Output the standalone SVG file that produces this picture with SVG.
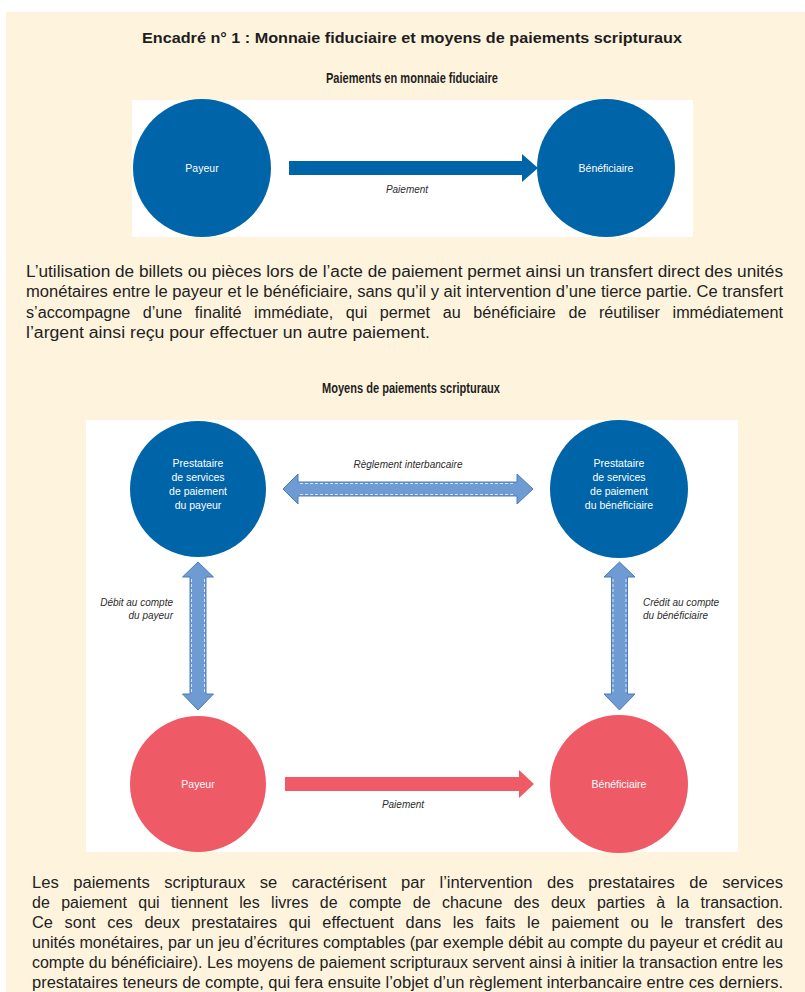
<svg xmlns="http://www.w3.org/2000/svg" width="805" height="992" viewBox="0 0 805 992">
  <defs>
    <style>
      .bg{fill:#fef4de}
      .panel{fill:#ffffff}
      .dark{fill:#0064a8}
      .red{fill:#ef5a67}
      .light{fill:#6f9bd3;stroke:#4a7bbd;stroke-width:1}
      .dash{fill:none;stroke:#ffffff;stroke-width:1;stroke-dasharray:3 2;opacity:0.75}
      .h{font-family:"Liberation Sans",Arial,sans-serif;font-weight:bold;fill:#1e1e1e;text-anchor:middle}
      .p{font-family:"Liberation Sans",Arial,sans-serif;font-size:16px;fill:#222222}
      .n{font-family:"Liberation Sans",Arial,sans-serif;font-size:10.5px;fill:#ffffff;text-anchor:middle}
      .lbl{font-family:"Liberation Sans",Arial,sans-serif;font-size:10px;font-style:italic;fill:#2d2d2d}
    </style>
  </defs>

  <!-- page and box background -->
  <rect x="0" y="0" width="805" height="992" fill="#ffffff"/>
  <rect class="bg" x="6" y="12" width="799" height="980"/>

  <!-- headings -->
  <text class="h" x="412" y="43" font-size="15" textLength="540" lengthAdjust="spacingAndGlyphs">Encadré n° 1 : Monnaie fiduciaire et moyens de paiements scripturaux</text>
  <text class="h" x="412" y="83" font-size="14.5" textLength="172" lengthAdjust="spacingAndGlyphs">Paiements en monnaie fiduciaire</text>
  <text class="h" x="411" y="393" font-size="14.5" textLength="178" lengthAdjust="spacingAndGlyphs">Moyens de paiements scripturaux</text>

  <!-- cash payment panel -->
  <rect class="panel" x="132" y="100" width="561" height="137"/>
  <g id="connectors-cash">
    <path class="dark" d="M289,161 H522 V154 L538,168 L522,182 V175 H289 Z"/>
    <text class="lbl" x="407" y="193" text-anchor="middle">Paiement</text>
  </g>
  <g id="cash-payeur">
    <circle class="dark" cx="202" cy="168" r="69"/>
    <text class="n" x="202" y="172">Payeur</text>
  </g>
  <g id="cash-beneficiaire">
    <circle class="dark" cx="606" cy="168" r="69"/>
    <text class="n" x="606" y="172">Bénéficiaire</text>
  </g>

  <!-- paragraph 1 -->
  <g id="para-1">
    <text class="p" x="26" y="277" textLength="757" lengthAdjust="spacingAndGlyphs">L’utilisation de billets ou pièces lors de l’acte de paiement permet ainsi un transfert direct des unités</text>
    <text class="p" x="26" y="297" textLength="757" lengthAdjust="spacingAndGlyphs">monétaires entre le payeur et le bénéficiaire, sans qu’il y ait intervention d’une tierce partie. Ce transfert</text>
    <text class="p" x="26" y="318" textLength="757" lengthAdjust="spacingAndGlyphs" word-spacing="8">s’accompagne d’une finalité immédiate, qui permet au bénéficiaire de réutiliser immédiatement</text>
    <text class="p" x="26" y="338" textLength="404" lengthAdjust="spacingAndGlyphs">l’argent ainsi reçu pour effectuer un autre paiement.</text>
  </g>

  <!-- book-entry payment panel -->
  <rect class="panel" x="86" y="420" width="652" height="432"/>

  <g id="connectors-scriptural">
    <!-- interbank settlement -->
    <path class="light" d="M283,489 L298,474 V482 H517 V474 L533,489 L517,504 V496 H298 V504 Z"/>
    <path class="dash" d="M300,483.5 H515 M300,494.5 H515"/>
    <text class="lbl" x="408" y="468" text-anchor="middle">Règlement interbancaire</text>

    <!-- payer account debit -->
    <path class="light" d="M198,562 L213.5,577 H206 V694 H213.5 L198,710 L182.5,694 H190 V577 H182.5 Z"/>
    <path class="dash" d="M191.5,579 V692 M204.5,579 V692"/>
    <text class="lbl" x="173" y="606" text-anchor="end">Débit au compte</text>
    <text class="lbl" x="173" y="619" text-anchor="end">du payeur</text>

    <!-- payee account credit -->
    <path class="light" d="M619.5,562 L635,577 H627.5 V694 H635 L619.5,710 L604,694 H611.5 V577 H604 Z"/>
    <path class="dash" d="M613,579 V692 M626,579 V692"/>
    <text class="lbl" x="643" y="606">Crédit au compte</text>
    <text class="lbl" x="643" y="619">du bénéficiaire</text>

    <!-- payment -->
    <path class="red" d="M285,777 H519 V770 L534,784 L519,798 V791 H285 Z"/>
    <text class="lbl" x="403" y="808" text-anchor="middle">Paiement</text>
  </g>

  <g id="psp-payeur">
    <circle class="dark" cx="198" cy="489" r="68"/>
    <text class="n" x="198" y="467">Prestataire</text>
    <text class="n" x="198" y="481">de services</text>
    <text class="n" x="198" y="495">de paiement</text>
    <text class="n" x="198" y="509">du payeur</text>
  </g>
  <g id="psp-beneficiaire">
    <circle class="dark" cx="619" cy="489" r="69"/>
    <text class="n" x="619" y="467">Prestataire</text>
    <text class="n" x="619" y="481">de services</text>
    <text class="n" x="619" y="495">de paiement</text>
    <text class="n" x="619" y="509">du bénéficiaire</text>
  </g>
  <g id="payeur">
    <circle class="red" cx="198" cy="784" r="68"/>
    <text class="n" x="198" y="788">Payeur</text>
  </g>
  <g id="beneficiaire">
    <circle class="red" cx="619" cy="784" r="69"/>
    <text class="n" x="619" y="788">Bénéficiaire</text>
  </g>

  <!-- paragraph 2 -->
  <g id="para-2">
    <text class="p" x="32" y="888" textLength="751" lengthAdjust="spacingAndGlyphs" word-spacing="9.5">Les paiements scripturaux se caractérisent par l’intervention des prestataires de services</text>
    <text class="p" x="32" y="908" textLength="751" lengthAdjust="spacingAndGlyphs" word-spacing="7">de paiement qui tiennent les livres de compte de chacune des deux parties à la transaction.</text>
    <text class="p" x="32" y="928" textLength="751" lengthAdjust="spacingAndGlyphs" word-spacing="7">Ce sont ces deux prestataires qui effectuent dans les faits le paiement ou le transfert des</text>
    <text class="p" x="32" y="948" textLength="751" lengthAdjust="spacingAndGlyphs">unités monétaires, par un jeu d’écritures comptables (par exemple débit au compte du payeur et crédit au</text>
    <text class="p" x="32" y="968" textLength="751" lengthAdjust="spacingAndGlyphs">compte du bénéficiaire). Les moyens de paiement scripturaux servent ainsi à initier la transaction entre les</text>
    <text class="p" x="32" y="988" textLength="751" lengthAdjust="spacingAndGlyphs">prestataires teneurs de compte, qui fera ensuite l’objet d’un règlement interbancaire entre ces derniers.</text>
  </g>
</svg>
